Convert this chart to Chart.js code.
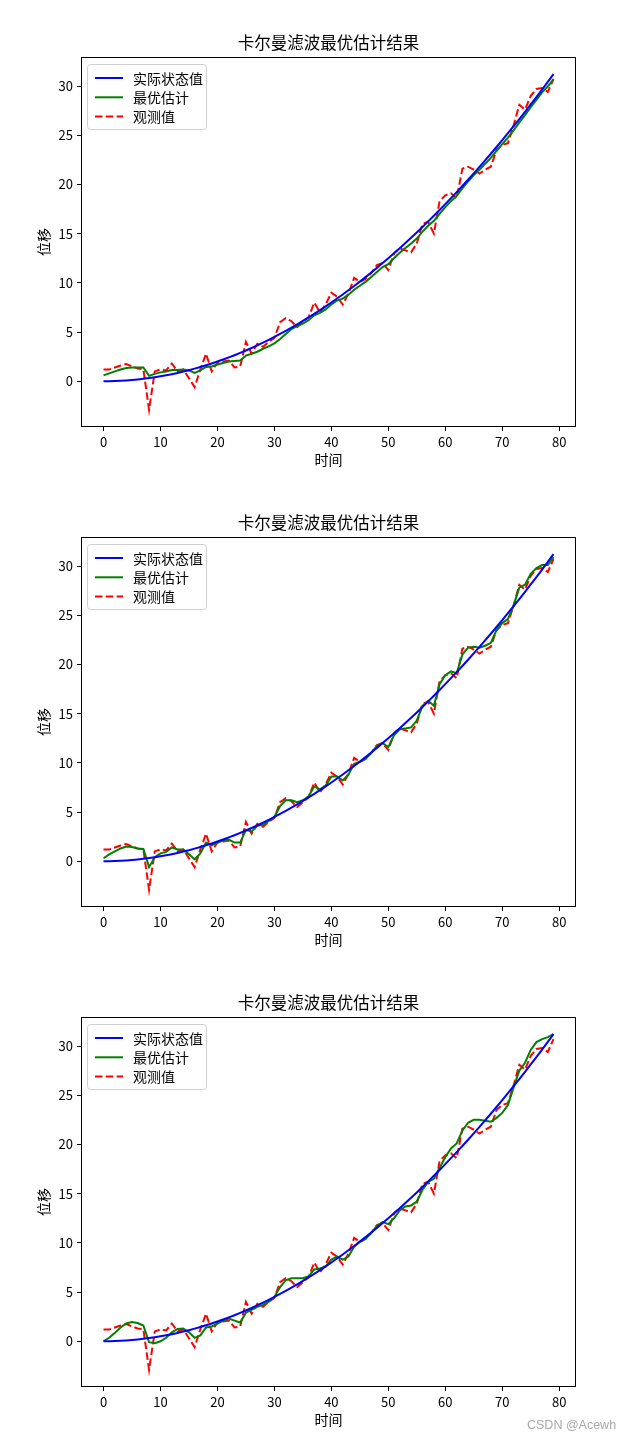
<!DOCTYPE html>
<html>
<head>
<meta charset="utf-8">
<script src="https://cdn.jsdelivr.net/npm/chart.js@4"></script>
<style>
  html, body { margin: 0; padding: 0; background: #fff; }
  #wrap { position: relative; width: 640px; height: 1440px; }
  canvas { display: block; }
  #mark { position: absolute; left: 527px; top: 1418px; font: 12.5px 'Liberation Sans', Arial, sans-serif; color: #a8a8a8; white-space: nowrap; }
</style>
</head>
<body>
<div id="wrap">
  <canvas id="c1" width="640" height="480"></canvas>
  <canvas id="c2" width="640" height="480"></canvas>
  <canvas id="c3" width="640" height="480"></canvas>
  <div id="mark">CSDN @Acewh</div>
</div>
<script>
const chartTitle = '卡尔曼滤波最优估计结果';
const xLabel = '时间';
const yLabel = '位移';
const seriesNames = ['实际状态值', '最优估计', '观测值'];
const xTicks = [0, 10, 20, 30, 40, 50, 60, 70, 80];
const yTicks = [0, 5, 10, 15, 20, 25, 30];

const actualState = [0, 0.005, 0.02, 0.045, 0.08, 0.125, 0.18, 0.245, 0.32, 0.405,
  0.5, 0.605, 0.72, 0.845, 0.98, 1.125, 1.28, 1.445, 1.62, 1.805,
  2.0, 2.205, 2.42, 2.645, 2.88, 3.125, 3.38, 3.645, 3.92, 4.205,
  4.5, 4.805, 5.12, 5.445, 5.78, 6.125, 6.48, 6.845, 7.22, 7.605,
  8.0, 8.405, 8.82, 9.245, 9.68, 10.125, 10.58, 11.045, 11.52, 12.005,
  12.5, 13.005, 13.52, 14.045, 14.58, 15.125, 15.68, 16.245, 16.82, 17.405,
  18.0, 18.605, 19.22, 19.845, 20.48, 21.125, 21.78, 22.445, 23.12, 23.805,
  24.5, 25.205, 25.92, 26.645, 27.38, 28.125, 28.88, 29.645, 30.42, 31.205];

const observed = [1.2, 1.2, 1.4, 1.6, 1.75, 1.5, 1.3, 1.2, -2.9, 1.0,
  1.2, 1.1, 1.8, 1.0, 1.2, 0.3, -0.6, 1.2, 2.8, 1.0,
  1.9, 2.0, 2.1, 1.4, 1.5, 4.0, 2.8, 3.8, 3.5, 4.0,
  4.4, 6.0, 6.4, 6.1, 5.5, 6.0, 6.5, 8.0, 7.0, 7.8,
  9.0, 8.6, 7.8, 8.9, 10.5, 10.1, 10.4, 11.0, 11.8, 12.0,
  11.3, 13.0, 13.5, 13.3, 13.1, 14.0, 16.0, 16.2, 15.0, 18.3,
  18.9, 19.1, 18.6, 21.6, 21.8, 21.5, 21.1, 21.5, 21.8, 23.5,
  24.0, 24.2, 26.0, 28.1, 27.6, 29.0, 29.7, 29.8, 29.4, 30.7];

const estimateA = [0.6, 0.8, 1.0, 1.2, 1.35, 1.4, 1.4, 1.4, 0.55, 0.75,
  0.9, 1.0, 1.15, 1.15, 1.2, 1.1, 0.85, 1.1, 1.45, 1.5,
  1.7, 1.85, 2.0, 2.05, 2.1, 2.6, 2.8, 3.0, 3.3, 3.55,
  3.85, 4.3, 4.8, 5.3, 5.6, 5.85, 6.2, 6.7, 6.95, 7.3,
  7.8, 8.2, 8.4, 8.8, 9.3, 9.7, 10.1, 10.6, 11.1, 11.6,
  11.9, 12.5, 13.05, 13.55, 14.0, 14.5, 15.2, 15.8, 16.3, 17.0,
  17.7, 18.3, 18.85, 19.6, 20.3, 20.95, 21.5, 22.1, 22.7, 23.4,
  24.1, 24.75, 25.5, 26.3, 27.05, 27.85, 28.6, 29.35, 29.95, 30.7];

const estimateB = [0.3, 0.7, 1.0, 1.3, 1.5, 1.45, 1.3, 1.25, -0.6, 0.4,
  0.8, 0.95, 1.4, 1.2, 1.2, 0.7, 0.2, 0.8, 1.9, 1.6,
  1.9, 2.1, 2.2, 1.9, 1.9, 3.2, 3.0, 3.6, 3.7, 4.1,
  4.5, 5.6, 6.2, 6.2, 6.0, 6.2, 6.6, 7.6, 7.3, 7.7,
  8.6, 8.6, 8.2, 8.8, 9.9, 10.1, 10.4, 11.0, 11.7, 12.0,
  11.6, 12.8, 13.4, 13.5, 13.6, 14.3, 15.8, 16.3, 15.8, 18.0,
  18.9, 19.3, 19.1, 21.0, 21.7, 21.8, 21.7, 21.9, 22.2, 23.5,
  24.2, 24.6, 26.0, 27.8, 28.1, 29.2, 29.8, 30.1, 30.1, 30.9];

const estimateC = [0.0, 0.35, 0.85, 1.4, 1.8, 1.95, 1.85, 1.6, -0.1, -0.2,
  0.0, 0.35, 0.9, 1.25, 1.3, 0.9, 0.35, 0.6, 1.4, 1.5,
  1.8, 2.1, 2.3, 2.1, 1.9, 2.9, 3.2, 3.5, 3.7, 4.0,
  4.5, 5.5, 6.2, 6.4, 6.4, 6.4, 6.6, 7.3, 7.4, 7.6,
  8.3, 8.6, 8.3, 8.6, 9.6, 10.1, 10.4, 11.0, 11.7, 12.1,
  11.9, 12.5, 13.3, 13.7, 13.8, 14.2, 15.4, 16.2, 16.5, 17.6,
  18.7, 19.6, 20.1, 21.4, 22.2, 22.5, 22.5, 22.4, 22.3, 22.7,
  23.2, 24.0, 25.8, 27.5, 28.3, 29.6, 30.4, 30.7, 30.9, 31.2];

const FONT = "'Noto Sans CJK SC', 'Noto Sans', sans-serif";
const toPts = arr => arr.map((v, i) => ({ x: i, y: v }));

const boxAndLegend = {
  id: 'boxAndLegend',
  afterDatasetsDraw(chart) {
    const { ctx, chartArea: a } = chart;
    ctx.save();
    // title centred over the axes
    ctx.font = '16.5px ' + FONT;
    ctx.fillStyle = '#000';
    ctx.textAlign = 'center';
    ctx.textBaseline = 'middle';
    ctx.fillText(chartTitle, (a.left + a.right) / 2, a.top - 14);
    // frame
    ctx.strokeStyle = '#000';
    ctx.lineWidth = 1;
    ctx.strokeRect(Math.round(a.left) + 0.5, Math.round(a.top) + 0.5,
      Math.round(a.right - a.left) - 1, Math.round(a.bottom - a.top) - 1);
    // legend
    const lx = a.left + 6.5, ly = a.top + 7.5, lw = 119, lh = 65, r = 3;
    ctx.beginPath();
    ctx.moveTo(lx + r, ly);
    ctx.arcTo(lx + lw, ly, lx + lw, ly + lh, r);
    ctx.arcTo(lx + lw, ly + lh, lx, ly + lh, r);
    ctx.arcTo(lx, ly + lh, lx, ly, r);
    ctx.arcTo(lx, ly, lx + lw, ly, r);
    ctx.closePath();
    ctx.fillStyle = 'rgba(255,255,255,0.8)';
    ctx.fill();
    ctx.strokeStyle = '#d0d0d0';
    ctx.stroke();
    ctx.font = '14px ' + FONT;
    ctx.textBaseline = 'middle';
    ctx.textAlign = 'left';
    chart.data.datasets.forEach((ds, i) => {
      const y = a.top + 21 + i * 19.3;
      ctx.beginPath();
      ctx.setLineDash(ds.borderDash || []);
      ctx.strokeStyle = ds.borderColor;
      ctx.lineWidth = ds.borderWidth;
      ctx.moveTo(a.left + 14, y);
      ctx.lineTo(a.left + 42, y);
      ctx.stroke();
      ctx.setLineDash([]);
      ctx.fillStyle = '#000';
      ctx.fillText(ds.label, a.left + 52, y + 0.5);
    });
    ctx.restore();
  }
};

function makeChart(id, estimate) {
  new Chart(document.getElementById(id), {
    type: 'line',
    data: {
      datasets: [
        { label: seriesNames[0], data: toPts(actualState), borderColor: '#0000ff', borderWidth: 2, pointRadius: 0, tension: 0, fill: false },
        { label: seriesNames[1], data: toPts(estimate), borderColor: '#008000', borderWidth: 2, pointRadius: 0, tension: 0, fill: false },
        { label: seriesNames[2], data: toPts(observed), borderColor: '#ff0000', borderWidth: 2, borderDash: [7.5, 3.3], pointRadius: 0, tension: 0, fill: false }
      ]
    },
    options: {
      responsive: false,
      animation: false,
      devicePixelRatio: 1,
      layout: { padding: { left: 0, right: 64, top: 57, bottom: 0 } },
      plugins: {
        legend: { display: false },
        tooltip: { enabled: false },
        title: { display: false }
      },
      scales: {
        x: {
          type: 'linear', min: -3.95, max: 82.95,
          afterFit(s) { s.height = 53; },
          afterBuildTicks(s) { s.ticks = xTicks.map(v => ({ value: v })); },
          border: { display: false },
          grid: { display: true, drawOnChartArea: false, drawTicks: true, tickLength: 4, color: '#000', tickColor: '#000' },
          ticks: { color: '#000', padding: 3, maxRotation: 0, font: { family: FONT, size: 13 } },
          title: { display: true, text: xLabel, color: '#000', font: { family: FONT, size: 14, lineHeight: 1.2 }, padding: { top: 0, bottom: 12 } }
        },
        y: {
          type: 'linear', min: -4.65, max: 32.95,
          afterFit(s) { s.width = 81; },
          afterBuildTicks(s) { s.ticks = yTicks.map(v => ({ value: v })); },
          border: { display: false },
          grid: { display: true, drawOnChartArea: false, drawTicks: true, tickLength: 4, color: '#000', tickColor: '#000' },
          ticks: { color: '#000', padding: 4, font: { family: FONT, size: 13 } },
          title: { display: true, text: yLabel, color: '#000', font: { family: FONT, size: 14, lineHeight: 1.2 }, padding: { top: 35, bottom: 0 } }
        }
      }
    },
    plugins: [boxAndLegend]
  });
}

makeChart('c1', estimateA);
makeChart('c2', estimateB);
makeChart('c3', estimateC);
</script>
</body>
</html>
